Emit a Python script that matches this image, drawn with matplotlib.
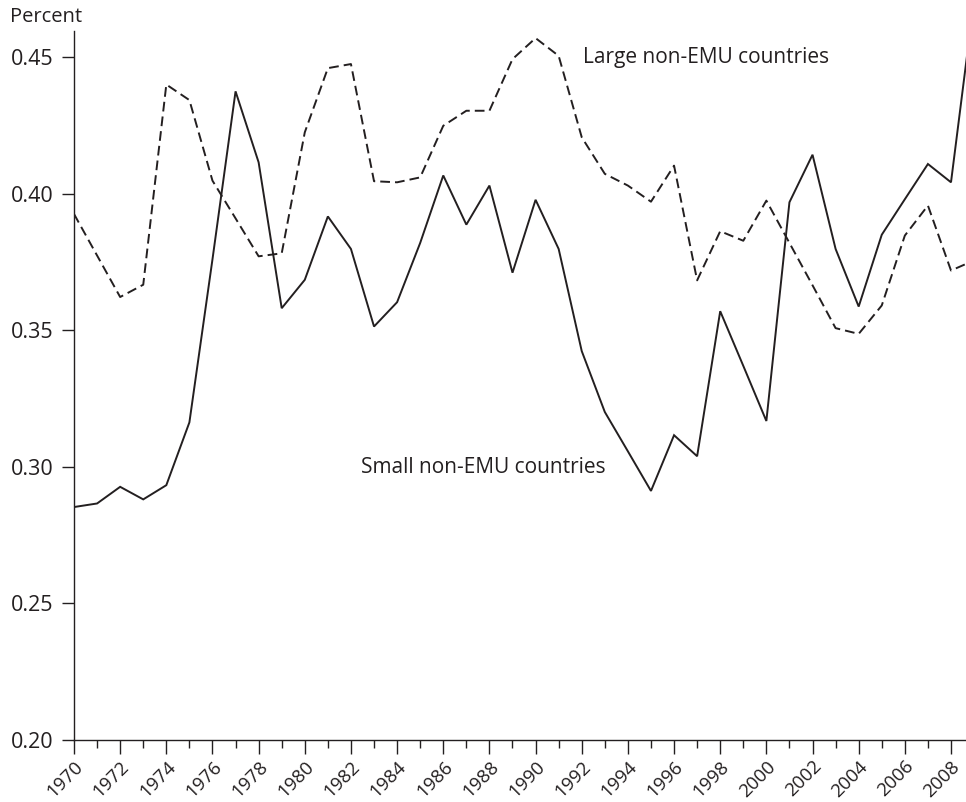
import matplotlib
matplotlib.use("Agg")
import matplotlib.pyplot as plt
from matplotlib.ticker import FixedLocator

plt.rcParams['font.family'] = ['Open Sans', 'DejaVu Sans']

years = list(range(1970, 2010))
small_non_emu = [0.2853, 0.2866, 0.2927, 0.2881, 0.2933, 0.3163, 0.376, 0.4375, 0.4115, 0.3581,
                 0.3685, 0.3917, 0.3798, 0.3514, 0.3603, 0.382, 0.4067, 0.3887, 0.4030, 0.3711,
                 0.3978, 0.3798, 0.3424, 0.3201, 0.3057, 0.2912, 0.3116, 0.3039, 0.3570, 0.3370,
                 0.3168, 0.3969, 0.4143, 0.3798, 0.3587, 0.3850, 0.3980, 0.4109, 0.4042, 0.471]
large_non_emu = [0.3926, 0.3774, 0.3622, 0.3667, 0.4400, 0.4343, 0.4048, 0.3910, 0.3771, 0.3782,
                 0.4225, 0.4460, 0.4475, 0.4046, 0.4042, 0.4060, 0.4249, 0.4304, 0.4304, 0.4493,
                 0.4570, 0.4505, 0.4207, 0.4073, 0.4030, 0.3971, 0.4103, 0.3683, 0.3863, 0.3828,
                 0.3975, 0.3820, 0.3665, 0.3508, 0.3487, 0.3591, 0.3847, 0.3957, 0.3719, 0.3756]
y_ticks = [0.20, 0.25, 0.30, 0.35, 0.40, 0.45]
x_tick_labels = [str(y) for y in range(1970, 2009, 2)]

color = '#231f20'
fig = plt.figure(figsize=(9.66, 8.02), dpi=100)
ax = fig.add_axes([74/966, 62/802, 1 - 74/966, (740-31)/802])

ax.plot(years, small_non_emu, color=color, lw=1.4, solid_joinstyle='miter')
ln, = ax.plot(years, large_non_emu, color=color, lw=1.4)
ln.set_dashes((5, 2.6))

ax.set_xlim(1970, 2008.65)
ax.set_ylim(0.20, 0.4596)

for s in ['top', 'right']:
    ax.spines[s].set_visible(False)
for s in ['left', 'bottom']:
    ax.spines[s].set_color(color)
    ax.spines[s].set_linewidth(1.0)

ax.set_yticks(y_ticks)
ax.set_yticklabels([f"{v:.2f}" for v in y_ticks], fontsize=15.5, color=color)
ax.tick_params(axis='y', length=9, width=1.0, color=color, pad=6)

ax.xaxis.set_major_locator(FixedLocator(range(1970, 2009, 2)))
ax.xaxis.set_minor_locator(FixedLocator(range(1971, 2009, 2)))
ax.set_xticklabels(x_tick_labels, fontsize=13.5, rotation=45, ha='right', va='top',
                   rotation_mode='anchor', color=color)
ax.tick_params(axis='x', which='major', length=10, width=1.0, color=color, pad=2.5)
ax.tick_params(axis='x', which='minor', length=6, width=1.0, color=color)

fig.text(10/966, 1 - 17/802, 'Percent', fontsize=14.5, color=color, va='center', ha='left')
ax.text(1992.05, 0.4498, 'Large non-EMU countries', fontsize=15, color=color, va='center', ha='left')
ax.text(1982.45, 0.2996, 'Small non-EMU countries', fontsize=15, color=color, va='center', ha='left')

fig.savefig('out.png', dpi=100)
